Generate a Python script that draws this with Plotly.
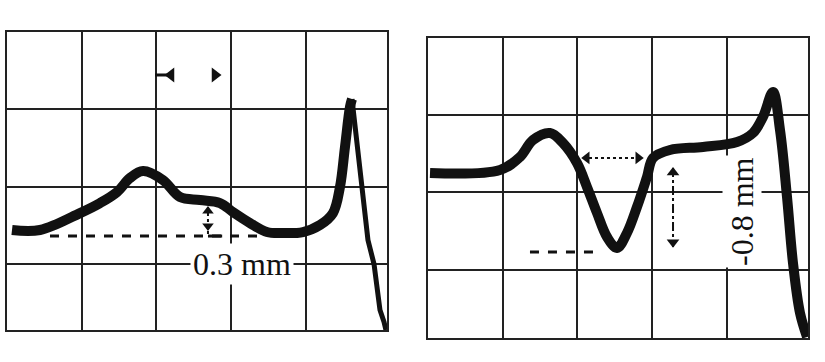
import plotly.graph_objects as go

# ---- Left panel (grid units: 1 unit = 1 large square) ----
left_t = [0.067, 0.442, 0.978, 1.246, 1.473, 1.647, 1.822, 2.089, 2.317, 2.585, 2.853,
          3.027, 3.255, 3.482, 3.697, 3.965, 4.192, 4.366, 4.460, 4.527, 4.594, 4.621]
left_v = [1.439, 1.439, 1.658, 1.788, 1.930, 2.111, 2.202, 2.085, 1.865, 1.827, 1.788,
          1.671, 1.529, 1.413, 1.400, 1.413, 1.503, 1.658, 1.995, 2.512, 3.030, 3.133]
left_fall_t = [4.621, 4.755, 4.835, 4.916, 4.996, 5.050, 5.076]
left_fall_v = [3.133, 1.982, 1.309, 0.999, 0.404, 0.250, 0.145]
left_base_t = [0.576, 3.429]
left_base_v = [1.361, 1.361]
left_arrow_t = [2.692, 2.692]
left_arrow_v = [1.736, 1.361]
left_label = "0.3 mm"

# ---- Right panel ----
right_t = [0.027, 0.964, 1.232, 1.406, 1.634, 1.808, 1.996, 2.130, 2.264, 2.398, 2.531,
           2.665, 2.799, 2.933, 3.014, 3.241, 3.683, 4.139, 4.353, 4.487, 4.621,
           4.715, 4.809, 4.889, 4.983, 5.077]
right_v = [2.248, 2.287, 2.455, 2.674, 2.764, 2.635, 2.377, 2.067, 1.732, 1.422, 1.280,
           1.474, 1.809, 2.196, 2.442, 2.545, 2.584, 2.648, 2.764, 2.971, 3.293,
           2.803, 1.938, 1.087, 0.442, 0.132]
right_base_t = [1.366, 2.264]
right_base_v = [1.229, 1.229]
right_harrow_t = [2.076, 2.866]
right_harrow_v = [2.442, 2.442]
right_varrow_t = [3.282, 3.282]
right_varrow_v = [2.313, 1.293]
right_label = "-0.8 mm"

INK = "#111111"
GRID = "#222222"
FONT = "Liberation Serif"

fig = go.Figure()

# left traces
fig.add_trace(go.Scatter(x=left_base_t, y=left_base_v, mode="lines",
                         line=dict(color=INK, width=3, dash="dash"), xaxis="x", yaxis="y"))
fig.add_trace(go.Scatter(x=left_arrow_t, y=left_arrow_v, mode="lines",
                         line=dict(color=INK, width=2, dash="dot"), xaxis="x", yaxis="y"))
fig.add_trace(go.Scatter(x=[left_arrow_t[0], left_arrow_t[0]], y=[left_arrow_v[0] - 0.05, left_arrow_v[1] + 0.13],
                         mode="markers", marker=dict(symbol=["triangle-up", "triangle-down"], size=10, color=INK),
                         xaxis="x", yaxis="y"))
fig.add_trace(go.Scatter(x=[left_arrow_t[0], left_arrow_t[0] + 0.19], y=[left_arrow_v[1], left_arrow_v[1]],
                         mode="lines", line=dict(color=INK, width=3), xaxis="x", yaxis="y"))
fig.add_trace(go.Scatter(x=[1.982, 2.143], y=[3.444, 3.444], mode="lines",
                         line=dict(color=INK, width=3), xaxis="x", yaxis="y"))
fig.add_trace(go.Scatter(x=[2.197, 2.786], y=[3.444, 3.444], mode="markers",
                         marker=dict(symbol=["triangle-left", "triangle-right"], size=13, color=INK),
                         xaxis="x", yaxis="y"))
fig.add_trace(go.Scatter(x=left_t, y=left_v, mode="lines",
                         line=dict(color=INK, width=10, shape="spline", smoothing=1.0),
                         xaxis="x", yaxis="y"))
fig.add_trace(go.Scatter(x=left_fall_t, y=left_fall_v, mode="lines",
                         line=dict(color=INK, width=5), xaxis="x", yaxis="y"))

# right traces
fig.add_trace(go.Scatter(x=right_base_t, y=right_base_v, mode="lines",
                         line=dict(color=INK, width=3, dash="dash"), xaxis="x2", yaxis="y2"))
fig.add_trace(go.Scatter(x=right_harrow_t, y=right_harrow_v, mode="lines",
                         line=dict(color=INK, width=2, dash="dot"), xaxis="x2", yaxis="y2"))
fig.add_trace(go.Scatter(x=[right_harrow_t[0] + 0.05, right_harrow_t[1] - 0.05], y=right_harrow_v,
                         mode="markers", marker=dict(symbol=["triangle-left", "triangle-right"], size=11, color=INK),
                         xaxis="x2", yaxis="y2"))
fig.add_trace(go.Scatter(x=right_varrow_t, y=right_varrow_v, mode="lines",
                         line=dict(color=INK, width=2, dash="dashdot"), xaxis="x2", yaxis="y2"))
fig.add_trace(go.Scatter(x=right_varrow_t, y=[right_varrow_v[0] - 0.06, right_varrow_v[1] + 0.06],
                         mode="markers", marker=dict(symbol=["triangle-up", "triangle-down"], size=11, color=INK),
                         xaxis="x2", yaxis="y2"))
fig.add_trace(go.Scatter(x=right_t, y=right_v, mode="lines",
                         line=dict(color=INK, width=10, shape="spline", smoothing=1.0),
                         xaxis="x2", yaxis="y2"))

axis_common = dict(showgrid=True, gridcolor=GRID, gridwidth=2, zeroline=False,
                   showline=True, linecolor=GRID, linewidth=2, mirror=True,
                   showticklabels=False, ticks="", fixedrange=True)

fig.update_layout(
    width=825, height=362,
    margin=dict(l=0, r=0, t=0, b=0),
    paper_bgcolor="white", plot_bgcolor="white",
    showlegend=False,
    xaxis=dict(domain=[7 / 825, 387 / 825], range=[0, 5.09], tickvals=[1, 2, 3, 4], **axis_common),
    yaxis=dict(domain=[1 - 330 / 362, 1 - 32 / 362], range=[0.146, 4.0], tickvals=[1, 2, 3], **axis_common),
    xaxis2=dict(domain=[428 / 825, 808 / 825], range=[0, 5.09], tickvals=[1, 2, 3, 4], anchor="y2", **axis_common),
    yaxis2=dict(domain=[1 - 338 / 362, 1 - 38 / 362], range=[0.119, 3.99], tickvals=[1, 2, 3], anchor="x2", **axis_common),
    annotations=[
        dict(x=3.15, y=1.0, xref="x", yref="y", text=left_label, showarrow=False,
             font=dict(family=FONT, size=32, color=INK), bgcolor="white", borderpad=2),
        dict(x=4.206, y=1.745, xref="x2", yref="y2", text=right_label, showarrow=False,
             textangle=-90, font=dict(family=FONT, size=32, color=INK), bgcolor="white", borderpad=1),
    ],
)

fig.write_html("out.html")
